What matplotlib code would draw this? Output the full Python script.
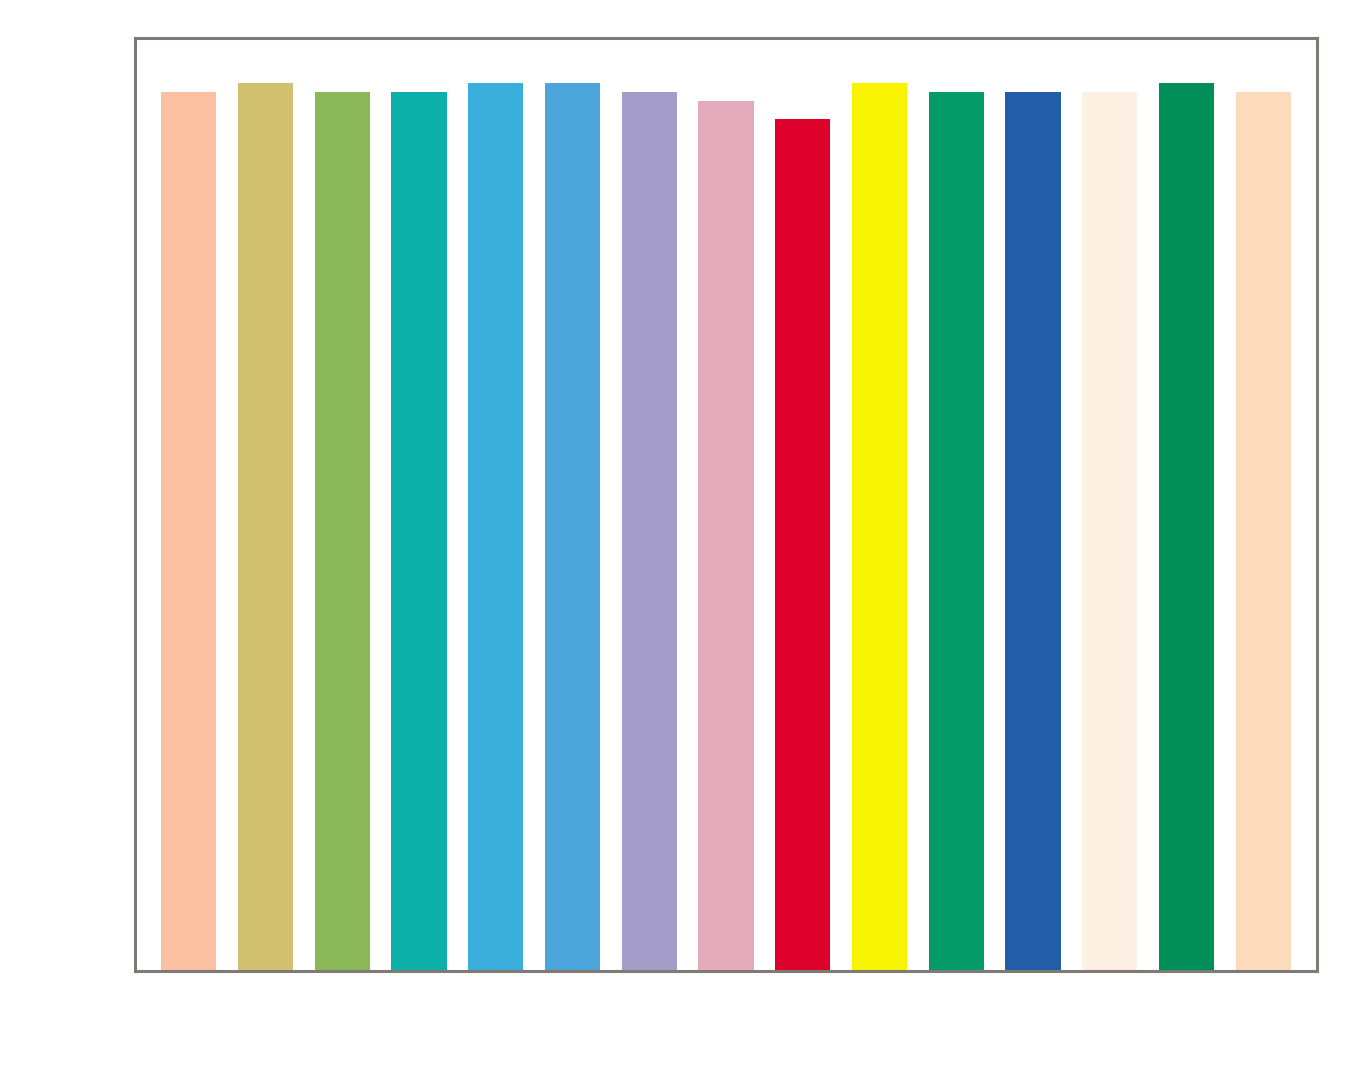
import matplotlib
matplotlib.use("Agg")
from matplotlib import pyplot as plt

categories = list(range(15))
values = [98, 99, 98, 98, 99, 99, 98, 97, 95, 99, 98, 98, 98, 99, 98]
colors = ["#F9C1A2", "#D1C070", "#8AB858", "#0DB0A8", "#3BAFDC",
          "#4BA5DB", "#A59DC9", "#E3ABBC", "#DC002B", "#F9F502",
          "#039B68", "#225EA8", "#FEF0E3", "#028E58", "#FCDBBA"]

fig = plt.figure(figsize=(13.5, 10.8), dpi=100)
ax = fig.add_axes([135 / 1350, 1 - 971 / 1080, 1182 / 1350, 933 / 1080])

ax.bar(categories, values, width=0.72, color=colors)

ax.set_xlim(-0.7, 14.7)
ax.set_ylim(0, 104)
ax.set_xticks([])
ax.set_yticks([])
for s in ax.spines.values():
    s.set_color("#7d7b74")
    s.set_linewidth(2.2)

plt.savefig("out.png")
